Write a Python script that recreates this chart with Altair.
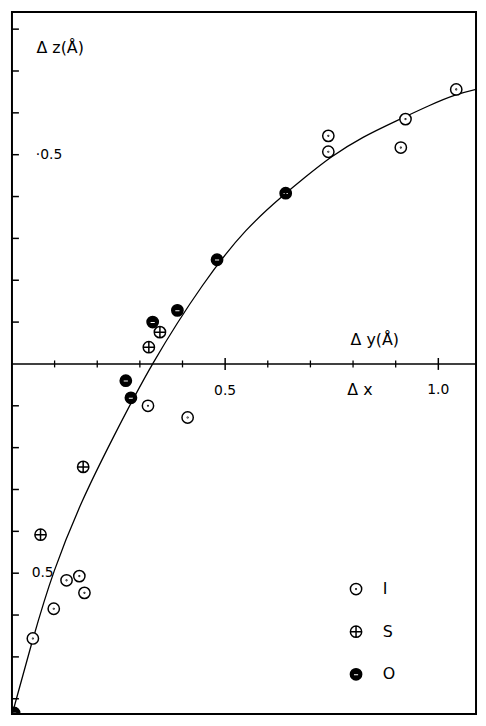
import altair as alt
import pandas as pd

# ---- values (x = Δy in Å, y = Δz above the axis / -Δx below) ----
curve_x = [0.0, 0.049, 0.095, 0.165, 0.235, 0.326, 0.451, 0.549, 0.642, 0.684, 0.747, 0.823, 0.902, 0.979, 1.042, 1.1]
curve_y = [-0.839, -0.656, -0.498, -0.322, -0.180, 0.0, 0.199, 0.325, 0.408, 0.443, 0.495, 0.543, 0.581, 0.618, 0.645, 0.659]

i_x = [1.042, 0.923, 0.912, 0.742, 0.742, 0.319, 0.412, 0.128, 0.158, 0.170, 0.098, 0.049]
i_y = [0.656, 0.585, 0.517, 0.545, 0.507, -0.100, -0.128, -0.517, -0.507, -0.547, -0.585, -0.656]

s_x = [0.347, 0.321, 0.167, 0.067]
s_y = [0.076, 0.040, -0.246, -0.408]

o_x = [0.642, 0.481, 0.388, 0.330, 0.267, 0.279, 0.005]
o_y = [0.408, 0.249, 0.128, 0.100, -0.040, -0.081, -0.834]

types = ["I", "S", "O"]

x_ticks_minor = [0.1, 0.2, 0.3, 0.4, 0.6, 0.7, 0.8, 0.9]
x_ticks_major = [0.5, 1.0]
y_ticks = [0.1, 0.2, 0.3, 0.4, 0.5, 0.6, 0.7, 0.8, -0.1, -0.2, -0.3, -0.4, -0.5, -0.6, -0.7, -0.8]

label_text = ["Δ z(Å)", "Δ y(Å)", "Δ x"]
label_x = [0.113, 0.851, 0.816]
label_y = [0.756, 0.057, -0.062]

num_text = ["·0.5", "0.5", "0.5", "1.0"]
num_x = [0.087, 0.072, 0.5, 1.0]
num_y = [0.5, -0.5, -0.064, -0.062]

# ---- tables ----
curve_df = pd.DataFrame({"x": curve_x, "y": curve_y})
pts_df = pd.concat([
    pd.DataFrame({"x": i_x, "y": i_y, "type": "I"}),
    pd.DataFrame({"x": s_x, "y": s_y, "type": "S"}),
    pd.DataFrame({"x": o_x, "y": o_y, "type": "O"}),
], ignore_index=True)
xt_minor = pd.DataFrame({"x": x_ticks_minor, "y": 0.0})
xt_major = pd.DataFrame({"x": x_ticks_major, "y": 0.0})
yt = pd.DataFrame({"y": y_ticks, "x": 0.0})
lab_df = pd.DataFrame({"x": label_x, "y": label_y, "t": label_text})
num_df = pd.DataFrame({"x": num_x, "y": num_y, "t": num_text})
zero_df = pd.DataFrame({"y": [0.0]})

FONT = "DejaVu Sans"
xs = alt.Scale(domain=[0, 1.0884], nice=False, zero=False)
ys = alt.Scale(domain=[-0.8365, 0.841], nice=False, zero=False)


def X():
    return alt.X("x:Q", scale=xs, axis=None)


def Y():
    return alt.Y("y:Q", scale=ys, axis=None)


circ = "M-1,0A1,1 0 1,1 1,0A1,1 0 1,1 -1,0Z"
path_I = circ + "M-0.06,0A0.06,0.06 0 1,1 0.06,0A0.06,0.06 0 1,1 -0.06,0Z"
path_S = circ + "M-1,0H1M0,-1V1"
path_O = circ + "M-0.5,0.28H0.5V-0.16H-0.5Z"

leg = alt.Legend(orient="none", legendX=339, legendY=574, title=None, direction="vertical",
                 labelFont=FONT, labelFontSize=16, labelColor="black", symbolSize=130,
                 symbolStrokeWidth=1.5, symbolStrokeColor="black", rowPadding=25,
                 labelOffset=19, padding=0)

axis_line = alt.Chart(zero_df).mark_rule(color="black", strokeWidth=1.5).encode(y=Y())

xtick_minor = alt.Chart(xt_minor).mark_point(shape="M0,-1V1", size=49, filled=False,
                                             stroke="black", strokeWidth=1.3, opacity=1).encode(x=X(), y=Y())
xtick_major = alt.Chart(xt_major).mark_point(shape="M0,-1V1", size=144, filled=False,
                                             stroke="black", strokeWidth=1.5, opacity=1).encode(x=X(), y=Y())
ytick = alt.Chart(yt).mark_point(shape="M0,0H1", size=196, filled=False,
                                 stroke="black", strokeWidth=1.5, opacity=1).encode(x=X(), y=Y())

curve = alt.Chart(curve_df).mark_line(color="black", strokeWidth=1.3, interpolate="basis", clip=True).encode(
    x=X(), y=Y(), order="x:Q")

points = alt.Chart(pts_df).mark_point(strokeWidth=1.5, opacity=1, size=130, clip=True).encode(
    x=X(), y=Y(),
    shape=alt.Shape("type:N", scale=alt.Scale(domain=types, range=[path_I, path_S, path_O]), legend=leg),
    fill=alt.Fill("type:N", scale=alt.Scale(domain=types, range=["white", "white", "black"]), legend=leg),
    stroke=alt.Stroke("type:N", scale=alt.Scale(domain=types, range=["black", "black", "black"]), legend=leg),
)

labels = alt.Chart(lab_df).mark_text(font=FONT, fontSize=16, color="black", align="center",
                                     baseline="middle").encode(x=X(), y=Y(), text="t:N")
nums = alt.Chart(num_df).mark_text(font=FONT, fontSize=14, color="black", align="center",
                                   baseline="middle").encode(x=X(), y=Y(), text="t:N")

chart = alt.layer(axis_line, xtick_minor, xtick_major, ytick, curve, points, labels, nums).properties(
    width=468, height=708, padding={"left": 1, "top": 1, "right": 1, "bottom": 1},
    background="white",
).configure_view(stroke="black", strokeWidth=2)

chart.save("out.html", embed_options={"renderer": "svg", "actions": False})
